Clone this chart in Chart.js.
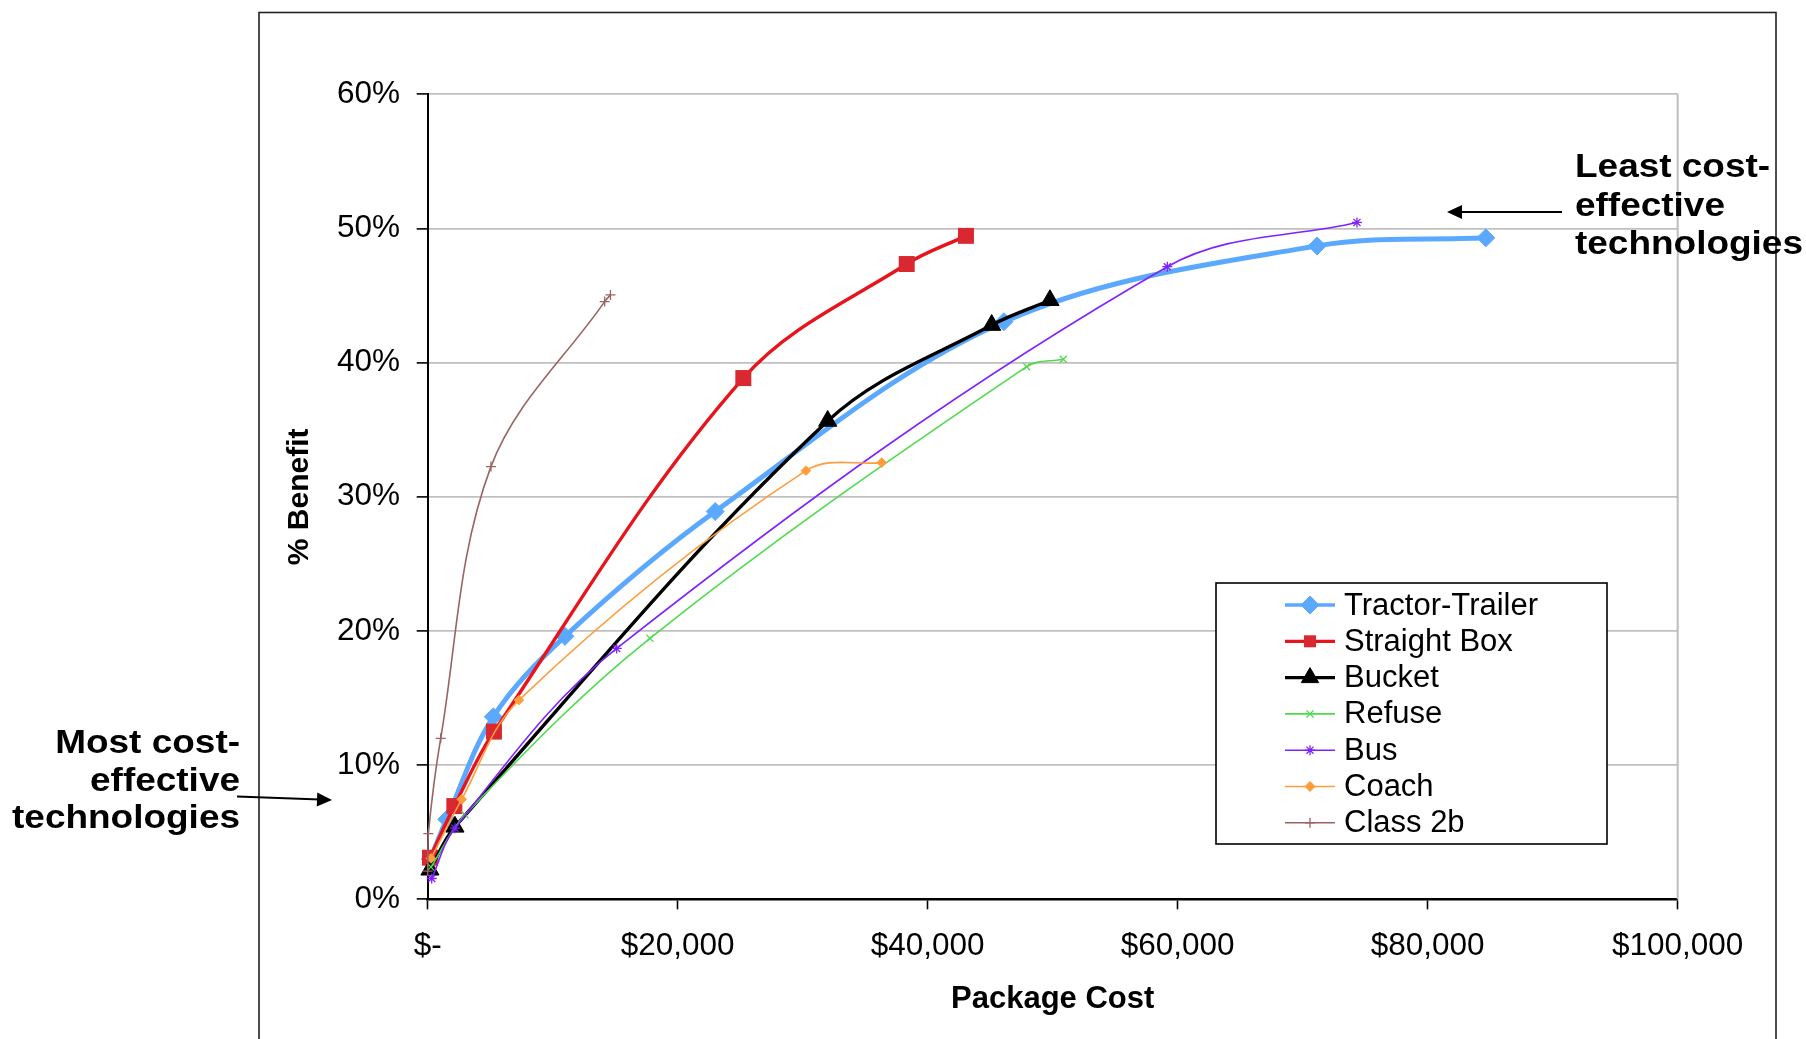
<!DOCTYPE html>
<html>
<head>
<meta charset="utf-8">
<title>% Benefit vs Package Cost</title>
<script src="https://cdn.jsdelivr.net/npm/chart.js"></script>
<style>
  html, body { margin: 0; padding: 0; background: #ffffff; }
  canvas { display: block; }
</style>
</head>
<body>
<canvas id="chart" width="1806" height="1039"></canvas>
<script>
// Package cost ($) and resulting % benefit for each vehicle class
const seriesNames = ['Tractor-Trailer', 'Straight Box', 'Bucket', 'Refuse', 'Bus', 'Coach', 'Class 2b'];

const tractorTrailerCost    = [200, 1520, 5250, 10980, 23000, 46100, 71150, 84650];
const tractorTrailerBenefit = [3.0, 5.96, 13.6, 19.6, 28.9, 43.05, 48.7, 49.3];

const straightBoxCost    = [180, 2130, 5300, 25250, 38320, 43060];
const straightBoxBenefit = [3.1, 6.95, 12.5, 38.85, 47.35, 49.45];

const bucketCost    = [180, 2180, 32000, 45120, 49780];
const bucketBenefit = [2.2, 5.4, 35.65, 42.8, 44.65];

const refuseCost    = [260, 2980, 17780, 47920, 50850];
const refuseBenefit = [2.4, 6.3, 19.45, 39.7, 40.25];

const busCost    = [320, 2180, 15120, 59170, 74340];
const busBenefit = [1.55, 5.3, 18.7, 47.15, 50.45];

const coachCost    = [260, 2720, 7300, 30260, 36320];
const coachBenefit = [3.05, 7.45, 14.85, 31.95, 32.55];

const class2bCost    = [0, 50, 1040, 5060, 14160, 14620];
const class2bBenefit = [2.1, 4.9, 12.0, 32.25, 44.55, 45.05];

// Axis ranges and tick spacing
const costMin = 0, costMax = 100000, costStep = 20000;
const benefitMin = 0, benefitMax = 60, benefitStep = 10;

const FONT = '"Liberation Sans", Arial, Helvetica, sans-serif';

const pairs = (xs, ys) => xs.map((x, i) => ({ x: x, y: ys[i] }));

// Drawing styles for each series
const styles = [
  { line: '#5ba9ff', fill: '#5ba9ff', width: 5,   point: 'rectRot',  r: 9,    lr: 9,   pb: 1 },
  { line: '#e8141c', fill: '#d9282f', width: 3.4, point: 'rect',     r: 11.3, lr: 8.5, pb: 0 },
  { line: '#000000', fill: '#000000', width: 3.4, point: 'triangle', r: 10.5, lr: 10,  pb: 1 },
  { line: '#4ddb4d', fill: '#4ddb4d', width: 1.6, point: 'crossRot', r: 5,    lr: 5,   pb: 1.3 },
  { line: '#7f22ff', fill: '#7f22ff', width: 1.6, point: 'star',     r: 5,    lr: 5,   pb: 1.3 },
  { line: '#ff9c3c', fill: '#ff9c3c', width: 1.6, point: 'rectRot',  r: 4.8,  lr: 5,   pb: 1 },
  { line: '#9a6464', fill: '#9a6464', width: 1.6, point: 'cross',    r: 5,    lr: 5,   pb: 1.3 }
];

const seriesData = [
  pairs(tractorTrailerCost, tractorTrailerBenefit),
  pairs(straightBoxCost, straightBoxBenefit),
  pairs(bucketCost, bucketBenefit),
  pairs(refuseCost, refuseBenefit),
  pairs(busCost, busBenefit),
  pairs(coachCost, coachBenefit),
  pairs(class2bCost, class2bBenefit)
];

const datasets = seriesNames.map((name, i) => ({
  label: name,
  data: seriesData[i],
  borderColor: styles[i].line,
  backgroundColor: styles[i].fill,
  borderWidth: styles[i].width,
  pointStyle: styles[i].point,
  pointRadius: styles[i].r,
  pointBackgroundColor: styles[i].fill,
  pointBorderColor: styles[i].point === 'rect' ? styles[i].fill : styles[i].line,
  pointBorderWidth: styles[i].pb,
  legendRadius: styles[i].lr,
  tension: 0.35,
  cubicInterpolationMode: 'default',
  fill: false,
  clip: false,
  order: seriesNames.length - i   // later series sit on top
}));

// Plot-area border, outer frame, legend box and the two notes with arrows
const decorations = {
  id: 'decorations',
  beforeDatasetsDraw(chart) {
    const { ctx, chartArea: a } = chart;
    ctx.save();
    ctx.strokeStyle = '#bdbdbd';
    ctx.lineWidth = 2;
    ctx.beginPath();
    ctx.moveTo(a.right, a.top);
    ctx.lineTo(a.right, a.bottom);
    ctx.stroke();
    ctx.restore();
  },
  afterDraw(chart) {
    const ctx = chart.ctx;
    ctx.save();

    // outer chart frame
    ctx.strokeStyle = '#222';
    ctx.lineWidth = 1.6;
    ctx.strokeRect(259, 12.5, 1517, 1040);

    // legend
    const box = { x: 1216, y: 583, w: 391, h: 261 };
    ctx.fillStyle = '#fff';
    ctx.fillRect(box.x, box.y, box.w, box.h);
    ctx.strokeStyle = '#000';
    ctx.lineWidth = 1.6;
    ctx.strokeRect(box.x, box.y, box.w, box.h);
    chart.data.datasets.forEach((ds, i) => {
      const y = 605 + i * 36.3;
      ctx.strokeStyle = ds.borderColor;
      ctx.lineWidth = Math.min(ds.borderWidth, 3.3);
      ctx.beginPath();
      ctx.moveTo(1285, y);
      ctx.lineTo(1335, y);
      ctx.stroke();
      ctx.fillStyle = ds.pointBackgroundColor;
      ctx.strokeStyle = ds.pointBorderColor;
      ctx.lineWidth = ds.pointBorderWidth;
      Chart.helpers.drawPoint(ctx, {
        pointStyle: ds.pointStyle, rotation: 0,
        radius: ds.legendRadius, borderWidth: ds.pointBorderWidth
      }, 1310, y);
      ctx.fillStyle = '#000';
      ctx.font = '31px ' + FONT;
      ctx.textAlign = 'left';
      ctx.textBaseline = 'middle';
      ctx.fillText(ds.label, 1344, y + 1);
    });

    // notes
    const note = (lines, x, baselines, align) => {
      ctx.fillStyle = '#000';
      ctx.font = 'bold 33px ' + FONT;
      ctx.textBaseline = 'alphabetic';
      ctx.textAlign = align;
      lines.forEach((t, k) => {
        ctx.save();
        ctx.translate(x, baselines[k]);
        ctx.scale(1.12, 1);
        ctx.fillText(t, 0, 0);
        ctx.restore();
      });
    };
    note(['Least cost-', 'effective', 'technologies'], 1575, [177, 215.5, 254], 'left');
    note(['Most cost-', 'effective', 'technologies'], 240, [753, 790.5, 828], 'right');

    const arrow = (x0, y0, x1, y1) => {
      const ang = Math.atan2(y1 - y0, x1 - x0);
      const len = 15, half = 7;
      ctx.strokeStyle = '#000';
      ctx.fillStyle = '#000';
      ctx.lineWidth = 2;
      ctx.beginPath();
      ctx.moveTo(x0, y0);
      ctx.lineTo(x1 - Math.cos(ang) * len * 0.8, y1 - Math.sin(ang) * len * 0.8);
      ctx.stroke();
      ctx.beginPath();
      ctx.moveTo(x1, y1);
      ctx.lineTo(x1 - Math.cos(ang) * len - Math.sin(ang) * half, y1 - Math.sin(ang) * len + Math.cos(ang) * half);
      ctx.lineTo(x1 - Math.cos(ang) * len + Math.sin(ang) * half, y1 - Math.sin(ang) * len - Math.cos(ang) * half);
      ctx.closePath();
      ctx.fill();
    };
    arrow(1562, 212, 1447, 212);
    arrow(237, 796.5, 332, 800);

    ctx.restore();
  }
};

new Chart(document.getElementById('chart'), {
  type: 'line',
  data: { datasets: datasets },
  plugins: [decorations],
  options: {
    responsive: false,
    animation: false,
    devicePixelRatio: 1,
    layout: { padding: { top: 94.3, right: 128.3, left: 0, bottom: 0 } },
    plugins: {
      legend: { display: false },
      tooltip: { enabled: false }
    },
    scales: {
      x: {
        type: 'linear',
        min: costMin,
        max: costMax,
        ticks: {
          stepSize: costStep,
          autoSkip: false,
          maxRotation: 0,
          color: '#000',
          padding: 18.5,
          font: { family: FONT, size: 31.5 },
          callback: v => v === 0 ? '$-' : '$' + Number(v).toLocaleString('en-US')
        },
        grid: {
          drawOnChartArea: false,
          drawTicks: true,
          tickLength: 10,
          tickColor: '#000',
          tickWidth: 1.6
        },
        border: { display: true, color: '#000', width: 2.5 },
        title: {
          display: true,
          text: 'Package Cost',
          color: '#000',
          font: { family: FONT, size: 31, weight: 'bold' },
          padding: { top: 0, bottom: 21.4 }
        },
        afterFit: scale => { scale.height = 139.7; }
      },
      y: {
        type: 'linear',
        min: benefitMin,
        max: benefitMax,
        ticks: {
          stepSize: benefitStep,
          color: '#000',
          padding: 16.7,
          font: { family: FONT, size: 31.5 },
          callback: v => v + '%'
        },
        grid: {
          color: ctx => (ctx.tick && ctx.tick.value === 0) ? 'rgba(0,0,0,0)' : '#c0c0c0',
          lineWidth: 1.8,
          drawTicks: true,
          tickLength: 11,
          tickColor: '#000',
          tickWidth: 1.6
        },
        border: { display: true, color: '#000', width: 2 },
        title: {
          display: true,
          text: '% Benefit',
          color: '#000',
          font: { family: FONT, size: 30, weight: 'bold' },
          padding: { top: 282, bottom: 0 }
        },
        afterFit: scale => { scale.width = 427.7; }
      }
    }
  }
});
</script>
</body>
</html>
